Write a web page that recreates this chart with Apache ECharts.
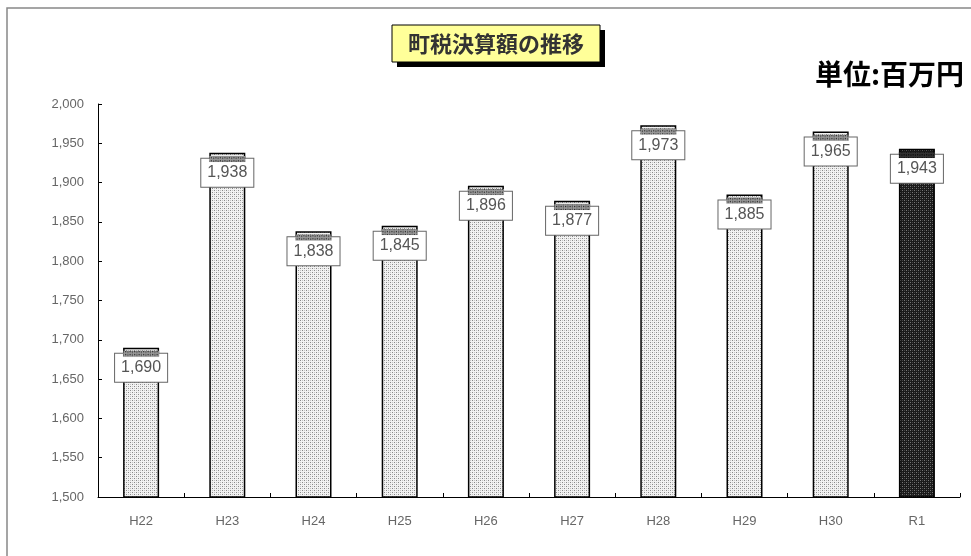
<!DOCTYPE html>
<html><head><meta charset="utf-8">
<script src="https://cdn.jsdelivr.net/npm/echarts@6/dist/echarts.min.js"></script>
<style>html,body{margin:0;padding:0;background:#fff}#c{width:971px;height:556px}</style>
</head><body><div id="c"></div>
<script>
const categories = ['H22','H23','H24','H25','H26','H27','H28','H29','H30','R1'];
const values = [1690,1938,1838,1845,1896,1877,1973,1885,1965,1943];
const yTicks = {min:1500, max:2000, interval:50};
const titleText = '町税決算額の推移';
const unitText = '単位:百万円';

function pattern(bg, dot, dot2){
  const c = document.createElement('canvas'); c.width = 4; c.height = 4;
  const g = c.getContext('2d');
  g.fillStyle = bg; g.fillRect(0,0,4,4);
  g.fillStyle = dot; g.fillRect(0,0,1,1); g.fillRect(2,2,1,1);
  g.fillStyle = dot2; g.fillRect(2,0,1,1); g.fillRect(0,2,1,1);
  return {image:c, repeat:'repeat'};
}
const lightPat = pattern('#f2f2f2','#888','#c4c4c4');
const darkPat = pattern('#1a1a1a','#777','#444');
const capLight = pattern('#999','#222','#555');
const capDark = pattern('#333','#000','#111');

const last = categories.length-1;
const chart = echarts.init(document.getElementById('c'), null, {renderer:'canvas'});
chart.setOption({
  animation:false,
  backgroundColor:'#fff',
  grid:{left:98, right:11, top:104, bottom:59},
  xAxis:{type:'category', data:categories,
    axisLine:{lineStyle:{color:'#000', width:1}},
    axisTick:{show:true, inside:true, length:4, lineStyle:{color:'#000'}},
    axisLabel:{color:'#666', fontSize:13, fontFamily:'Liberation Sans, Arial', margin:18}},
  yAxis:{type:'value', min:yTicks.min, max:yTicks.max, interval:yTicks.interval,
    axisLine:{show:true, lineStyle:{color:'#000', width:1}},
    axisTick:{show:true, inside:true, length:4, lineStyle:{color:'#000'}},
    splitLine:{show:false},
    axisLabel:{color:'#666', fontSize:13, fontFamily:'Liberation Sans, Arial', margin:14,
      formatter:v=>v.toLocaleString('en-US')}},
  series:[
    {type:'bar', barWidth:36, barGap:'-100%',
     data: values.map((v,i)=>({value:v, itemStyle:{color: i===last?darkPat:lightPat}})),
     itemStyle:{borderColor:'#000', borderWidth:1.5},
     label:{show:true, position:'insideTop', distance:6, color:'#555', fontSize:16,
       fontFamily:'Liberation Sans, Arial',
       backgroundColor:'#fff', borderColor:'#666', borderWidth:1, padding:[6,6,6,6],
       formatter:p=>p.value.toLocaleString('en-US')}},
    {type:'pictorialBar', barWidth:36, barGap:'-100%', symbol:'rect', symbolSize:[36,6],
     symbolPosition:'end', symbolOffset:[0,'50%'], z:3,
     data: values.map((v,i)=>({value:v, itemStyle:{color: i===last?capDark:capLight}})),
     itemStyle:{borderColor:'#000', borderWidth:1}}
  ],
  graphic:[
    {type:'rect', shape:{x:7,y:8,width:1000,height:600}, style:{fill:'none', stroke:'#888', lineWidth:1.5}, silent:true},
    {type:'rect', shape:{x:397,y:30,width:208,height:37}, style:{fill:'#000'}},
    {type:'rect', shape:{x:392,y:25,width:208,height:37}, style:{fill:'#ffff99', stroke:'#000', lineWidth:1}},
    {type:'text', x:496, y:44, style:{text:titleText, fill:'#333', font:'bold 22px "Noto Sans CJK JP"', textAlign:'center', textVerticalAlign:'middle'}},
    {type:'text', x:964, y:74, style:{text:unitText, fill:'#000', font:'bold 28px "Noto Sans CJK JP"', textAlign:'right', textVerticalAlign:'middle'}}
  ]
});
</script></body></html>
